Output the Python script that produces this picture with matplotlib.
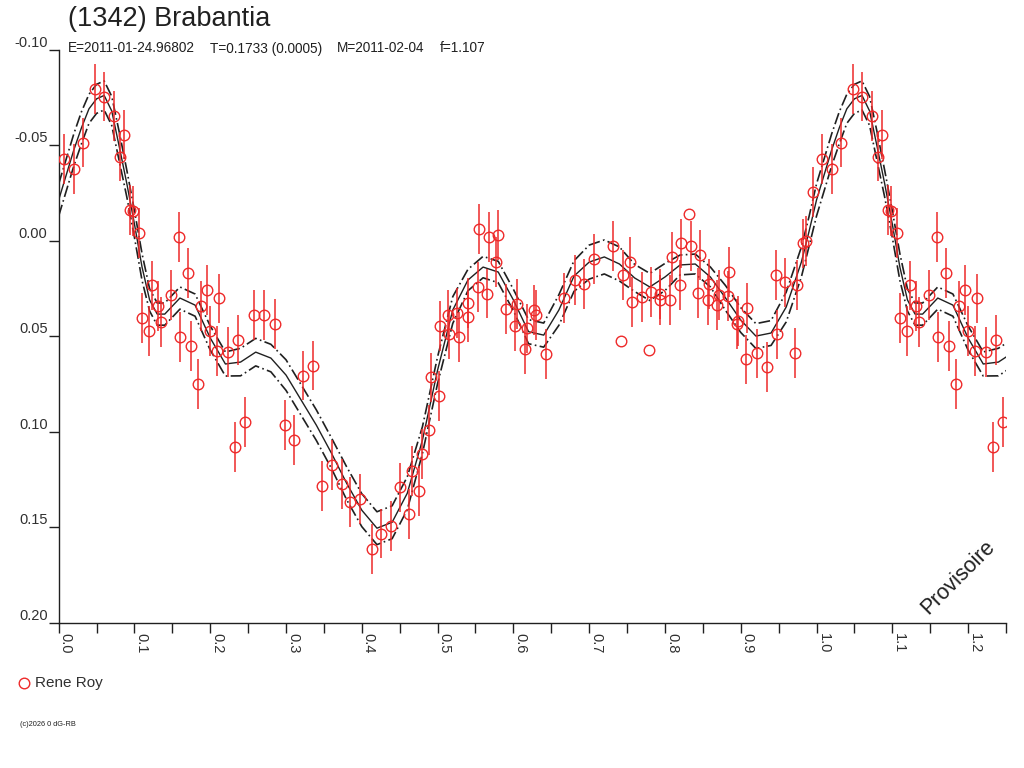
import matplotlib
matplotlib.use("Agg")
import matplotlib.pyplot as plt
import numpy as np
from matplotlib.ticker import MultipleLocator, FormatStrFormatter

plt.rcParams["font.family"] = ["Liberation Sans", "DejaVu Sans"]
plt.rcParams["axes.unicode_minus"] = False

# observations (phase in [0, 1), reduced magnitude, error)
phase = [
    0.0074, 0.0202, 0.0325, 0.0479, 0.0602, 0.0730, 0.0862, 0.0809, 0.0941, 0.0984,
    0.1060, 0.1587, 0.1710, 0.1227, 0.1478, 0.1961, 0.2119, 0.1314, 0.1874, 0.1103,
    0.1350, 0.1192, 0.1997, 0.1601, 0.1746, 0.2370, 0.2238, 0.2093, 0.2581, 0.2713,
    0.2854, 0.1842, 0.2458, 0.2327, 0.2980, 0.3105, 0.3230, 0.3360, 0.3478, 0.3603,
    0.3735, 0.3848, 0.3976, 0.4134, 0.4253, 0.4381, 0.4504, 0.4627, 0.4662, 0.4758,
    0.4790, 0.4887, 0.4909, 0.5015, 0.5032, 0.5133, 0.5154, 0.5260, 0.5282, 0.5405,
    0.5401, 0.5529, 0.5550, 0.5674, 0.5801, 0.5652, 0.5771, 0.5899, 0.6052, 0.6021,
    0.6176, 0.6153, 0.6272, 0.6299, 0.6427, 0.6672, 0.6813, 0.6936, 0.7064, 0.7311,
    0.7443, 0.7539, 0.7416, 0.7561, 0.7693, 0.7790, 0.7812, 0.7935, 0.7935, 0.8067,
    0.8093, 0.8199, 0.8212, 0.8314, 0.8340, 0.8463, 0.8440, 0.8581, 0.8572, 0.8691,
    0.8717, 0.8828, 0.8841, 0.8947, 0.8968, 0.9083, 0.9066, 0.9211, 0.9343, 0.9466,
    0.9483, 0.9588, 0.9716, 0.9739, 0.9826, 0.9861, 0.9958,
]
mag = [
    -0.0426, -0.0374, -0.0513, -0.0794, -0.0754, -0.0654, -0.0555, -0.0440, -0.0161, -0.0154,
    -0.0042, -0.0021, 0.0168, 0.0234, 0.0284, 0.0258, 0.0302, 0.0340, 0.0342, 0.0403,
    0.0424, 0.0471, 0.0473, 0.0503, 0.0551, 0.0521, 0.0581, 0.0577, 0.0389, 0.0389,
    0.0436, 0.0749, 0.0948, 0.1079, 0.0965, 0.1043, 0.0706, 0.0653, 0.1284, 0.1174,
    0.1274, 0.1366, 0.1352, 0.1614, 0.1532, 0.1492, 0.1291, 0.1431, 0.1204, 0.1310,
    0.1117, 0.0991, 0.0715, 0.0812, 0.0445, 0.0389, 0.0490, 0.0380, 0.0503, 0.0325,
    0.0398, 0.0241, -0.0060, -0.0018, -0.0030, 0.0277, 0.0110, 0.0358, 0.0331, 0.0447,
    0.0459, 0.0567, 0.0363, 0.0389, 0.0592, 0.0300, 0.0207, 0.0228, 0.0097, 0.0028,
    0.0180, 0.0113, 0.0524, 0.0319, 0.0296, 0.0574, 0.0269, 0.0279, 0.0311, 0.0311,
    0.0084, 0.0230, 0.0014, -0.0138, 0.0028, 0.0075, 0.0272, 0.0228, 0.0310, 0.0337,
    0.0284, 0.0290, 0.0162, 0.0436, 0.0420, 0.0352, 0.0621, 0.0590, 0.0660, 0.0178,
    0.0490, 0.0218, 0.0586, 0.0232, 0.0014, 0.0000, -0.0253,
]
err = [
    0.013, 0.013, 0.013, 0.013, 0.013, 0.013, 0.013, 0.013, 0.013, 0.013,
    0.013, 0.013, 0.013, 0.013, 0.013, 0.013, 0.013, 0.013, 0.013, 0.013,
    0.013, 0.013, 0.013, 0.013, 0.013, 0.013, 0.013, 0.013, 0.013, 0.013,
    0.013, 0.013, 0.013, 0.013, 0.013, 0.013, 0.013, 0.013, 0.013, 0.013,
    0.013, 0.013, 0.013, 0.013, 0.013, 0.013, 0.013, 0.013, 0.013, 0.013,
    0.013, 0.013, 0.013, 0.013, 0.013, 0.013, 0.013, 0.013, 0.013, 0.013,
    0.013, 0.013, 0.013, 0.013, 0.013, 0.013, 0.013, 0.013, 0.013, 0.013,
    0.013, 0.013, 0.013, 0.013, 0.013, 0.013, 0.013, 0.013, 0.013, 0.013,
    0.013, 0.013, 0.0, 0.013, 0.013, 0.0, 0.013, 0.013, 0.013, 0.013,
    0.013, 0.013, 0.013, 0.0, 0.013, 0.013, 0.013, 0.013, 0.013, 0.013,
    0.013, 0.013, 0.013, 0.013, 0.013, 0.013, 0.013, 0.013, 0.013, 0.013,
    0.013, 0.013, 0.013, 0.013, 0.013, 0.013, 0.013,
]

# fitted light curve (phase, magnitude, half width of the uncertainty band)
fit_phase = [
    0.00, 0.01, 0.02, 0.03, 0.04, 0.05, 0.06, 0.07, 0.08, 0.09,
    0.10, 0.11, 0.12, 0.13, 0.14, 0.16, 0.18, 0.20, 0.22, 0.24,
    0.26, 0.28, 0.30, 0.32, 0.34, 0.36, 0.38, 0.40, 0.42, 0.44,
    0.46, 0.48, 0.50, 0.52, 0.54, 0.56, 0.58, 0.60, 0.62, 0.64,
    0.66, 0.68, 0.70, 0.72, 0.74, 0.76, 0.78, 0.80, 0.82, 0.84,
    0.86, 0.88, 0.90, 0.92, 0.94, 0.96, 0.98, 0.99, 1.00,
]
fit_mag = [
    -0.0213, -0.0344, -0.0475, -0.0590, -0.0690, -0.0742, -0.0760, -0.0679, -0.0491, -0.0297,
    -0.0087, 0.0138, 0.0310, 0.0384, 0.0384, 0.0300, 0.0337, 0.0509, 0.0645, 0.0635,
    0.0583, 0.0614, 0.0703, 0.0834, 0.0965, 0.1112, 0.1269, 0.1410, 0.1504, 0.1473,
    0.1321, 0.1043, 0.0677, 0.0363, 0.0206, 0.0138, 0.0164, 0.0310, 0.0476, 0.0494,
    0.0363, 0.0185, 0.0112, 0.0085, 0.0122, 0.0195, 0.0242, 0.0190, 0.0127, 0.0122,
    0.0190, 0.0300, 0.0415, 0.0499, 0.0483, 0.0347, 0.0112, -0.0046, -0.0213,
]
fit_hw = [
    0.0084, 0.0084, 0.0084, 0.0084, 0.0076, 0.0076, 0.0076, 0.0076, 0.0076, 0.0070,
    0.0070, 0.0070, 0.0058, 0.0058, 0.0058, 0.0058, 0.0058, 0.0063, 0.0063, 0.0072,
    0.0072, 0.0072, 0.0080, 0.0080, 0.0080, 0.0080, 0.0086, 0.0086, 0.0086, 0.0086,
    0.0086, 0.0070, 0.0070, 0.0070, 0.0056, 0.0056, 0.0056, 0.0056, 0.0063, 0.0063,
    0.0080, 0.0080, 0.0089, 0.0089, 0.0089, 0.0071, 0.0071, 0.0071, 0.0052, 0.0052,
    0.0052, 0.0065, 0.0065, 0.0065, 0.0065, 0.0078, 0.0078, 0.0078, 0.0084,
]

# phase axis runs to 1.25: repeat the start of the cycle
ph = np.array(phase)
mg = np.array(mag)
er = np.array(err)
rep = ph < 0.25
ph_all = np.concatenate([ph, ph[rep] + 1])
mg_all = np.concatenate([mg, mg[rep]])
er_all = np.concatenate([er, er[rep]])

fp = np.array(fit_phase)
fm = np.array(fit_mag)
fh = np.array(fit_hw)
rep_f = (fp > 0) & (fp <= 0.26)
fp_all = np.concatenate([fp, fp[rep_f] + 1])
fm_all = np.concatenate([fm, fm[rep_f]])
fh_all = np.concatenate([fh, fh[rep_f]])

RED = "#ee2a2a"

fig = plt.figure(figsize=(10.24, 7.68), dpi=100)
fig.patch.set_facecolor("white")
ax = fig.add_axes([0.0573, 0.1888, 0.9251, 0.7467])

ax.plot(fp_all, fm_all, color="#202020", lw=1.0)
ax.plot(fp_all, fm_all - fh_all, color="#202020", lw=1.2, ls=(0, (7, 2, 1, 2)))
ax.plot(fp_all, fm_all + fh_all, color="#202020", lw=1.2, ls=(0, (7, 2, 1, 2)))

has_err = er_all > 0
ax.vlines(ph_all[has_err], (mg_all - er_all)[has_err], (mg_all + er_all)[has_err],
          color=RED, lw=1.1, zorder=3)
ax.plot(ph_all, mg_all, ls="none", marker="o", ms=7.6, mfc="none",
        mec=RED, mew=1.0, zorder=4)

ax.set_xlim(0, 1.25)
ax.set_ylim(0.20, -0.10)
ax.spines["top"].set_visible(False)
ax.spines["right"].set_visible(False)
for s in ("left", "bottom"):
    ax.spines[s].set_linewidth(1.0)
    ax.spines[s].set_color("#202020")

ax.xaxis.set_major_locator(MultipleLocator(0.1))
ax.xaxis.set_minor_locator(MultipleLocator(0.05))
ax.xaxis.set_major_formatter(FormatStrFormatter("%.1f"))
ax.yaxis.set_major_locator(MultipleLocator(0.05))
ax.yaxis.set_major_formatter(FormatStrFormatter("%.2f"))
ax.tick_params(axis="x", which="both", direction="out", length=7, width=1.0,
               color="#202020", pad=0.5, labelsize=10.5, labelcolor="#303030")
ax.tick_params(axis="y", direction="out", length=7, width=1.0, color="#202020",
               pad=1, labelsize=10.5, labelcolor="#303030")
for lbl in ax.get_xticklabels():
    lbl.set_rotation(-90)
    lbl.set_ha("left")
    lbl.set_va("top")
for lbl in ax.get_yticklabels():
    lbl.set_va("bottom")

fig.text(68 / 1024, 1 - 19 / 768, "(1342) Brabantia", fontsize=19.5,
         color="#202020", va="center", ha="left")
sub_items = [
    (68, "E=2011-01-24.96802"),
    (210, "T=0.1733 (0.0005)"),
    (336.7, "M=2011-02-04"),
    (439.3, "f=1.107"),
]
for xpx, s in sub_items:
    fig.text(xpx / 1024, 1 - 48.5 / 768, s, fontsize=9.8, color="#202020",
             va="center", ha="left")

fig.text(958 / 1024, 1 - 577 / 768, "Provisoire", fontsize=15.5, rotation=45,
         color="#202020", ha="center", va="center")

# legend
fig.lines.append(plt.Line2D([23.5 / 1024], [1 - 683 / 768], transform=fig.transFigure,
                            ls="none", marker="o", ms=7.6, mfc="none", mec=RED, mew=1.0))
fig.text(35 / 1024, 1 - 683 / 768, "Rene Roy", fontsize=11, color="#303030",
         va="center", ha="left")
fig.text(20 / 1024, 1 - 725 / 768, "(c)2026 0 dG-RB", fontsize=5.3, color="#202020",
         va="center", ha="left")

fig.savefig("out.png", dpi=100, facecolor="white")
